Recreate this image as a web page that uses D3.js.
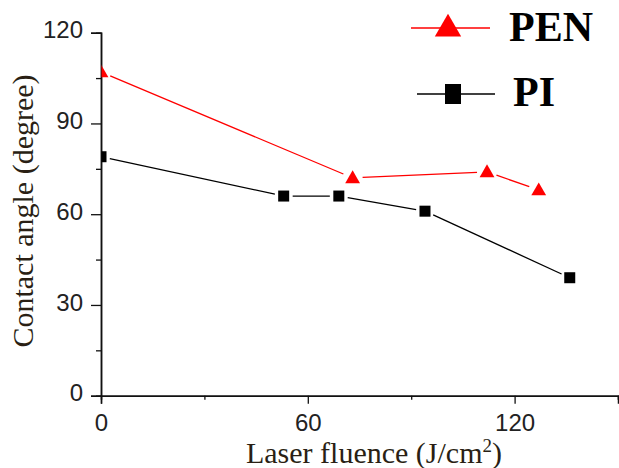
<!DOCTYPE html>
<html>
<head>
<meta charset="utf-8">
<script src="https://cdn.jsdelivr.net/npm/d3@7/dist/d3.min.js"></script>
<style>
  body { margin: 0; background: #fff; }
  svg { display: block; }
</style>
</head>
<body>
<svg id="chart"></svg>
<script>
// data
const penX = [0, 73, 112, 127];
const penY = [107, 72, 74, 68];
const piX = [0, 53, 69, 94, 136];
const piY = [79, 66, 66, 61, 39];
const xTicks = [0, 60, 120];
const xMinor = [30, 90, 150];
const yTicks = [0, 30, 60, 90, 120];
const yMinor = [15, 45, 75, 105];
const seriesNames = ['PEN', 'PI'];

const width = 619;
const height = 468;

const svg = d3.select('#chart')
    .attr('width', width)
    .attr('height', height);

const x = d3.scaleLinear().domain([0, 150]).range([101, 618]);
const y = d3.scaleLinear().domain([0, 120]).range([395.7, 32.7]);

// clip so the markers at x=0 are cut by the axis
svg.append('clipPath').attr('id', 'plotClip')
    .append('rect')
    .attr('x', x(0) + 0.5).attr('y', 0)
    .attr('width', width).attr('height', y(0));

// axes
const xAxis = svg.append('g')
    .attr('transform', `translate(0,${y(0)})`)
    .call(d3.axisBottom(x).tickValues(xTicks).tickSize(8).tickPadding(6).tickFormat(d3.format('d')));
const xAxisMinor = svg.append('g')
    .attr('transform', `translate(0,${y(0)})`)
    .call(d3.axisBottom(x).tickValues(xMinor).tickSize(4).tickFormat(''));
const yAxis = svg.append('g')
    .attr('transform', `translate(${x(0)},0)`)
    .call(d3.axisLeft(y).tickValues(yTicks).tickSize(10).tickPadding(8).tickFormat(d3.format('d')));
const yAxisMinor = svg.append('g')
    .attr('transform', `translate(${x(0)},0)`)
    .call(d3.axisLeft(y).tickValues(yMinor).tickSize(5).tickFormat(''));

[xAxis, xAxisMinor, yAxis, yAxisMinor].forEach(g => {
    g.select('.domain').attr('stroke', '#111').attr('stroke-width', 1.5);
    g.selectAll('.tick line').attr('stroke', '#111').attr('stroke-width', 1.3);
    g.selectAll('text')
        .attr('fill', '#222')
        .style('font-family', 'Liberation Sans, Arial, sans-serif')
        .style('font-size', '24px');
});
xAxis.selectAll('text').attr('dy', '0.9em');
yAxis.selectAll('text').attr('dy', '0.22em');

// axis titles
svg.append('text')
    .attr('transform', `translate(33,${211}) rotate(-90)`)
    .attr('text-anchor', 'middle')
    .style('font-family', 'Liberation Serif, Times New Roman, serif')
    .style('font-size', '30px')
    .attr('fill', '#2a1f14')
    .text('Contact angle (degree)');

const xt = svg.append('text')
    .attr('x', 374).attr('y', 463)
    .attr('text-anchor', 'middle')
    .style('font-family', 'Liberation Serif, Times New Roman, serif')
    .style('font-size', '30px')
    .attr('fill', '#2a1f14');
xt.append('tspan').text('Laser fluence (J/cm');
xt.append('tspan').attr('dy', -11).style('font-size', '19px').text('2');
xt.append('tspan').attr('dy', 11).text(')');

// series: lines with small gaps around markers (Origin style)
function drawSegments(g, xs, ys, color, gap) {
    const pts = xs.map((v, i) => [x(v), y(ys[i])]);
    for (let i = 0; i < pts.length - 1; i++) {
        const [x1, y1] = pts[i];
        const [x2, y2] = pts[i + 1];
        const len = Math.hypot(x2 - x1, y2 - y1);
        const ux = (x2 - x1) / len, uy = (y2 - y1) / len;
        g.append('line')
            .attr('x1', x1 + ux * gap).attr('y1', y1 + uy * gap)
            .attr('x2', x2 - ux * gap).attr('y2', y2 - uy * gap)
            .attr('stroke', color)
            .attr('stroke-width', 1.3);
    }
}

const plot = svg.append('g').attr('clip-path', 'url(#plotClip)');

const penG = plot.append('g');
drawSegments(penG, penX, penY, '#ff0000', 10);
penG.selectAll('path.pt')
    .data(penX)
    .enter()
    .append('path')
    .attr('class', 'pt')
    .attr('d', d3.symbol().type(d3.symbolTriangle).size(95))
    .attr('transform', (d, i) => `translate(${x(d)},${y(penY[i]) + 1})`)
    .attr('fill', '#ff0000');

const piG = plot.append('g');
drawSegments(piG, piX, piY, '#000', 9);
piG.selectAll('rect.pt')
    .data(piX)
    .enter()
    .append('rect')
    .attr('class', 'pt')
    .attr('x', d => x(d) - 5.5)
    .attr('y', (d, i) => y(piY[i]) - 5.5)
    .attr('width', 11)
    .attr('height', 11)
    .attr('fill', '#000');

// legend
const legend = svg.append('g');
const lg = [
    { name: seriesNames[0], color: '#ff0000', x1: 411, x2: 490, cx: 448, ly: 28, ty: 41, tx: 509 },
    { name: seriesNames[1], color: '#000', x1: 417, x2: 495, cx: 453, ly: 94, ty: 106, tx: 513 }
];
lg.forEach((d, i) => {
    legend.append('line')
        .attr('x1', d.x1).attr('x2', d.x2)
        .attr('y1', d.ly).attr('y2', d.ly)
        .attr('stroke', d.color).attr('stroke-width', 1.5);
    if (i === 0) {
        legend.append('path')
            .attr('d', d3.symbol().type(d3.symbolTriangle).size(300))
            .attr('transform', `translate(${d.cx},${d.ly + 1})`)
            .attr('fill', d.color);
    } else {
        legend.append('rect')
            .attr('x', d.cx - 8).attr('y', d.ly - 10)
            .attr('width', 16).attr('height', 20)
            .attr('fill', d.color);
    }
    legend.append('text')
        .attr('x', d.tx).attr('y', d.ty)
        .style('font-family', 'Liberation Serif, Times New Roman, serif')
        .style('font-weight', 'bold')
        .style('font-size', '42px')
        .attr('fill', '#000')
        .text(d.name);
});
</script>
</body>
</html>
